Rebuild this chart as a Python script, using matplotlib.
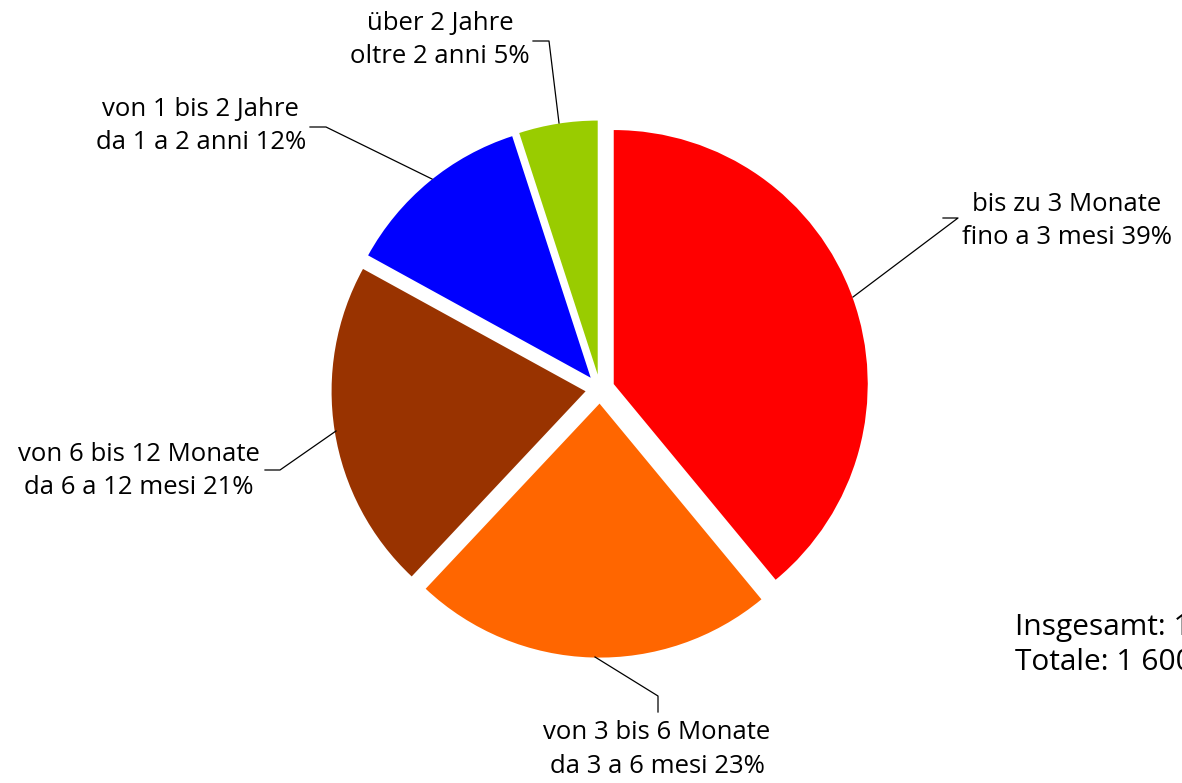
import matplotlib.pyplot as plt

# Data
shares = [39, 23, 21, 12, 5]
labels_de = ["bis zu 3 Monate", "von 3 bis 6 Monate", "von 6 bis 12 Monate",
             "von 1 bis 2 Jahre", "über 2 Jahre"]
labels_it = ["fino a 3 mesi", "da 3 a 6 mesi", "da 6 a 12 mesi",
             "da 1 a 2 anni", "oltre 2 anni"]
colors = ["#FF0000", "#FF6600", "#993300", "#0000FF", "#99CC00"]
total_de = "Insgesamt: 1 600"
total_it = "Totale: 1 600"

W, H = 1182, 783
plt.rcParams['font.family'] = ['Open Sans', 'DejaVu Sans']

fig = plt.figure(figsize=(W / 100, H / 100), dpi=100)
ax = fig.add_axes([0, 0, 1, 1])

def Y(y):
    return H - y

# explode is in data units here (axes span the figure in pixels)
ax.pie(shares, colors=colors, startangle=90, counterclock=False,
       radius=254, center=(600, Y(389)), explode=[14.6] * len(shares),
       wedgeprops=dict(linewidth=0), frame=True)
ax.set_xlim(0, W)
ax.set_ylim(0, H)
ax.set_aspect('auto')
ax.axis('off')

# label placement: (text x, text y, ha, va, leader line points)
label_pos = [
    (962, 221, 'left', 'center', [(943, 218), (958, 218), (853, 297)]),
    (657, 720, 'center', 'top', [(595, 657), (658, 696), (658, 712)]),
    (260, 471, 'right', 'center', [(265, 470), (280, 470), (336, 431)]),
    (306, 126, 'right', 'center', [(310, 127), (326, 127), (432, 179)]),
    (530, 40, 'right', 'center', [(533, 41), (549, 41), (559, 123)]),
]

for i, (tx, ty, ha, va, pts) in enumerate(label_pos):
    txt = f"{labels_de[i]}\n{labels_it[i]} {shares[i]}%"
    ax.text(tx, Y(ty), txt, ha=ha, va=va, multialignment='center',
            fontsize=18.5, linespacing=1.45, color='black')
    ax.plot([p[0] for p in pts], [Y(p[1]) for p in pts], color='black', lw=0.9)

ax.text(1015, Y(645), f"{total_de}\n{total_it}", ha='left', va='center',
        fontsize=21.5, linespacing=1.3, color='black')

fig.savefig("out.png", dpi=100)
